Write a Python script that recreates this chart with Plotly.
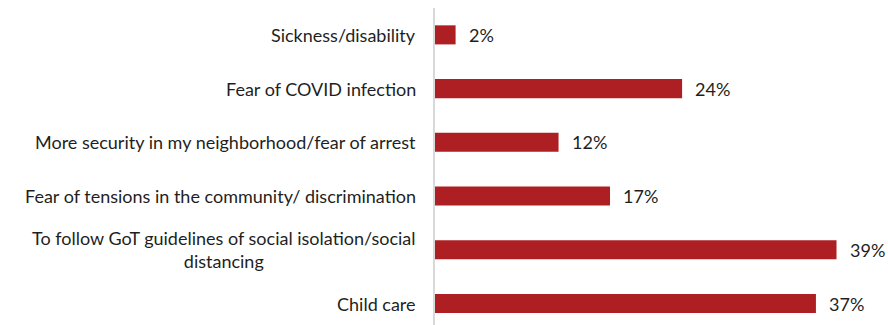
import plotly.graph_objects as go

# Reasons for staying home, share of respondents (%)
categories = [
    "Sickness/disability",
    "Fear of COVID infection",
    "More security in my neighborhood/fear of arrest",
    "Fear of tensions in the community/ discrimination",
    "To follow GoT guidelines of social isolation/social<br>distancing",
    "Child care",
]
values = [2, 24, 12, 17, 39, 37]
value_labels = ["2%", "24%", "12%", "17%", "39%", "37%"]

BAR_COLOR = "#AE1F24"
TEXT_COLOR = "#1F1F1F"
FONT = "Lato"
FONT_SIZE = 18

fig = go.Figure(
    go.Bar(
        x=values,
        y=categories,
        orientation="h",
        marker=dict(color=BAR_COLOR, line=dict(width=0)),
        width=0.355,
        hoverinfo="skip",
    )
)

# Category labels to the left of the axis (centred multi-line text)
for cat in categories:
    fig.add_annotation(
        x=0, y=cat, xref="x", yref="y",
        text=cat, showarrow=False, xanchor="right", yanchor="middle",
        align="center", xshift=-17,
        font=dict(family=FONT, size=FONT_SIZE, color=TEXT_COLOR),
    )

# Value labels just past the end of each bar
for cat, v, lab in zip(categories, values, value_labels):
    fig.add_annotation(
        x=v, y=cat, xref="x", yref="y",
        text=lab, showarrow=False, xanchor="left", yanchor="middle",
        xshift=11,
        font=dict(family=FONT, size=FONT_SIZE, color=TEXT_COLOR),
    )

fig.update_layout(
    width=888, height=325,
    margin=dict(l=435, r=0, t=8, b=0),
    paper_bgcolor="white", plot_bgcolor="white",
    showlegend=False,
    font=dict(family=FONT, size=FONT_SIZE, color=TEXT_COLOR),
    xaxis=dict(range=[0, 44.0], visible=False, fixedrange=True),
    yaxis=dict(
        type="category",
        range=[5.40, -0.5],
        showticklabels=False,
        showgrid=False, zeroline=False,
        showline=True, linecolor="#D9D9D9", linewidth=1.5,
        ticks="", fixedrange=True,
    ),
)

fig.write_html("out.html", config={"displayModeBar": False})
